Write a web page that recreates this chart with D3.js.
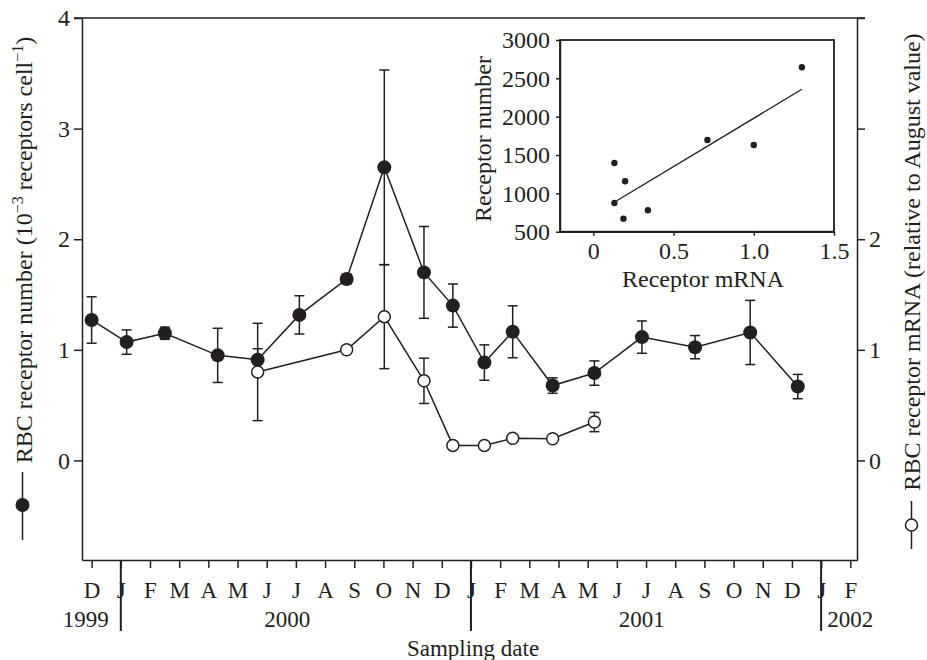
<!DOCTYPE html>
<html>
<head>
<meta charset="utf-8">
<script src="https://cdn.jsdelivr.net/npm/d3@7"></script>
<style>
  body { margin: 0; background: #fff; }
  svg { display: block; }
  svg text { font-family: "Liberation Serif", "Times New Roman", Times, serif !important; fill: #231f20; }
  .axis path, .axis line { stroke: #231f20; stroke-width: 1.5; }
</style>
</head>
<body>
<div id="chart"></div>
<script>
// month index: 0 = Dec 1999 ... 26 = Feb 2002
var monthLabels = ["D","J","F","M","A","M","J","J","A","S","O","N","D",
                   "J","F","M","A","M","J","J","A","S","O","N","D","J","F"];
var yearBreaks = [1, 13, 25];
var yearLabels = [{text: "1999", pos: -0.2}, {text: "2000", pos: 6.7},
                  {text: "2001", pos: 18.85}, {text: "2002", pos: 26.0}];

// receptor number (filled)
var numMonths = [0, 1.2, 2.51, 4.32, 5.69, 7.12, 8.74, 10.03, 11.39, 12.38, 13.46, 14.43, 15.80, 17.23, 18.86, 20.68, 22.57, 24.2];
var numValues = [1.27, 1.07, 1.15, 0.95, 0.91, 1.316, 1.64, 2.65, 1.70, 1.40, 0.885, 1.163, 0.677, 0.79, 1.115, 1.024, 1.157, 0.668];
var numErrors = [0.21, 0.11, 0.055, 0.245, 0.1, 0.173, 0.045, 0.88, 0.415, 0.195, 0.16, 0.235, 0.07, 0.11, 0.146, 0.105, 0.29, 0.11];

// receptor mRNA (open)
var mrnaMonths = [5.69, 8.74, 10.03, 11.39, 12.38, 13.46, 14.43, 15.80, 17.23];
var mrnaValues = [0.80, 1.0, 1.30, 0.72, 0.136, 0.136, 0.20, 0.196, 0.347];
var mrnaErrors = [0.44, 0, 0.47, 0.205, 0, 0, 0, 0, 0.087];

// inset scatter
var insetMrna = [0.131, 0.198, 0.131, 0.1875, 0.34, 0.711, 1.0, 1.30];
var insetNumber = [1396, 1157, 874, 670, 779, 1696, 1631, 2644];
var fitX = [0.146, 1.30];
var fitY = [904, 2357];

var yTicks = [0, 1, 2, 3, 4];
var yRightLabels = [0, 1, 2];
var insetXTicks = [0, 0.5, 1.0, 1.5];
var insetYTicks = [500, 1000, 1500, 2000, 2500, 3000];

var W = 927, H = 660;
var ink = "#231f20";

var svg = d3.select("#chart").append("svg").attr("width", W).attr("height", H)
  .attr("font-family", "Liberation Serif, Times New Roman, serif");

var x = d3.scaleLinear().domain([-0.33, 26.23]).range([82, 857]);
var y = d3.scaleLinear().domain([-0.9, 4]).range([560, 18]);

function styleAxis(g, size) {
  g.attr("font-family", null).attr("font-size", null);
  g.selectAll("text").style("font-size", size).attr("fill", ink);
}

// axes
svg.append("g").attr("class", "axis")
  .attr("transform", "translate(82,0)")
  .call(d3.axisLeft(y).tickValues(yTicks).tickSize(8).tickPadding(4).tickSizeOuter(0)
    .tickFormat(d3.format("d")))
  .call(styleAxis, "24px");

svg.append("g").attr("class", "axis")
  .attr("transform", "translate(857,0)")
  .call(d3.axisRight(y).tickValues(yTicks).tickSize(8).tickPadding(4).tickSizeOuter(0)
    .tickFormat(function(d) { return yRightLabels.indexOf(d) >= 0 ? d : ""; }))
  .call(styleAxis, "24px");

// top frame line
svg.append("line")
  .attr("x1", 74).attr("x2", 865).attr("y1", y(4)).attr("y2", y(4))
  .attr("stroke", ink).attr("stroke-width", 1.5);

svg.append("g").attr("class", "axis")
  .attr("transform", "translate(0,560)")
  .call(d3.axisBottom(x).tickValues(d3.range(0, 27)).tickSize(8).tickPadding(14).tickSizeOuter(0)
    .tickFormat(function(d) { return monthLabels[d]; }))
  .call(styleAxis, "23px");

// year separators
svg.selectAll(".yearline").data(yearBreaks).enter().append("line")
  .attr("x1", function(d) { return x(d); }).attr("x2", function(d) { return x(d); })
  .attr("y1", 560).attr("y2", 631)
  .attr("stroke", ink).attr("stroke-width", 2);

svg.selectAll(".year").data(yearLabels).enter().append("text")
  .attr("x", function(d) { return x(d.pos); }).attr("y", 627)
  .attr("text-anchor", "middle").style("font-size", "23px")
  .text(function(d) { return d.text; });

svg.append("text").attr("x", 473).attr("y", 656).attr("text-anchor", "middle")
  .style("font-size", "23px").text("Sampling date");

// left label
var lt = svg.append("text")
  .attr("transform", "translate(32,250) rotate(-90)")
  .attr("text-anchor", "middle").style("font-size", "24px");
lt.append("tspan").text("RBC receptor number (10");
lt.append("tspan").attr("dy", -9).style("font-size", "16px").text("\u22123");
lt.append("tspan").attr("dy", 9).text(" receptors cell");
lt.append("tspan").attr("dy", -9).style("font-size", "16px").text("\u22121");
lt.append("tspan").attr("dy", 9).text(")");

// right label
svg.append("text")
  .attr("transform", "translate(920,262) rotate(-90)")
  .attr("text-anchor", "middle").style("font-size", "24px")
  .text("RBC receptor mRNA (relative to August value)");

// legend symbols
svg.append("line").attr("x1", 22.5).attr("x2", 22.5).attr("y1", 472).attr("y2", 540)
  .attr("stroke", ink).attr("stroke-width", 1.5);
svg.append("circle").attr("cx", 22.5).attr("cy", 505).attr("r", 7).attr("fill", ink);
svg.append("line").attr("x1", 911.5).attr("x2", 911.5).attr("y1", 501).attr("y2", 549)
  .attr("stroke", ink).attr("stroke-width", 1.5);
svg.append("circle").attr("cx", 911.5).attr("cy", 525).attr("r", 6)
  .attr("fill", "#fff").attr("stroke", ink).attr("stroke-width", 1.5);

// series
var numData = numMonths.map(function(m, i) { return {m: m, v: numValues[i], e: numErrors[i]}; });
var mrnaData = mrnaMonths.map(function(m, i) { return {m: m, v: mrnaValues[i], e: mrnaErrors[i]}; });

var line = d3.line().x(function(d) { return x(d.m); }).y(function(d) { return y(d.v); });

function drawErrors(data) {
  var g = svg.append("g").attr("stroke", ink).attr("stroke-width", 1.5);
  data.filter(function(d) { return d.e > 0; }).forEach(function(d) {
    var cx = x(d.m);
    g.append("line").attr("x1", cx).attr("x2", cx).attr("y1", y(d.v - d.e)).attr("y2", y(d.v + d.e));
    g.append("line").attr("x1", cx - 5).attr("x2", cx + 5).attr("y1", y(d.v - d.e)).attr("y2", y(d.v - d.e));
    g.append("line").attr("x1", cx - 5).attr("x2", cx + 5).attr("y1", y(d.v + d.e)).attr("y2", y(d.v + d.e));
  });
}

svg.append("path").datum(mrnaData).attr("d", line)
  .attr("fill", "none").attr("stroke", ink).attr("stroke-width", 1.5);
svg.append("path").datum(numData).attr("d", line)
  .attr("fill", "none").attr("stroke", ink).attr("stroke-width", 1.5);
drawErrors(numData);
drawErrors(mrnaData);

svg.selectAll(".num").data(numData).enter().append("circle")
  .attr("cx", function(d) { return x(d.m); }).attr("cy", function(d) { return y(d.v); })
  .attr("r", 7).attr("fill", ink);
svg.selectAll(".mrna").data(mrnaData).enter().append("circle")
  .attr("cx", function(d) { return x(d.m); }).attr("cy", function(d) { return y(d.v); })
  .attr("r", 6).attr("fill", "#fff").attr("stroke", ink).attr("stroke-width", 1.5);

// inset
var ix = d3.scaleLinear().domain([-0.208, 1.5]).range([560, 834]);
var iy = d3.scaleLinear().domain([500, 3000]).range([231.7, 40]);

svg.append("rect").attr("x", 560).attr("y", 40).attr("width", 274).attr("height", 191.7)
  .attr("fill", "#fff").attr("stroke", ink).attr("stroke-width", 1.8);

svg.append("g").attr("class", "axis").attr("transform", "translate(560,0)")
  .call(d3.axisLeft(iy).tickValues(insetYTicks).tickSize(4).tickPadding(6).tickSizeOuter(0)
    .tickFormat(d3.format("d")))
  .call(styleAxis, "24px");

svg.append("g").attr("class", "axis").attr("transform", "translate(0,231.7)")
  .call(d3.axisBottom(ix).tickValues(insetXTicks).tickSize(4).tickPadding(6).tickSizeOuter(0)
    .tickFormat(function(d) { return d === 0 ? "0" : d3.format(".1f")(d); }))
  .call(styleAxis, "24px");

svg.append("text").attr("x", 703).attr("y", 287).attr("text-anchor", "middle")
  .style("font-size", "24px").text("Receptor mRNA");
svg.append("text").attr("transform", "translate(491,139) rotate(-90)")
  .attr("text-anchor", "middle").style("font-size", "24px").text("Receptor number");

svg.append("line")
  .attr("x1", ix(fitX[0])).attr("y1", iy(fitY[0]))
  .attr("x2", ix(fitX[1])).attr("y2", iy(fitY[1]))
  .attr("stroke", ink).attr("stroke-width", 1.3);

svg.selectAll(".ipt").data(insetMrna).enter().append("circle")
  .attr("cx", function(d) { return ix(d); })
  .attr("cy", function(d, i) { return iy(insetNumber[i]); })
  .attr("r", 3.2).attr("fill", ink);
</script>
</body>
</html>
